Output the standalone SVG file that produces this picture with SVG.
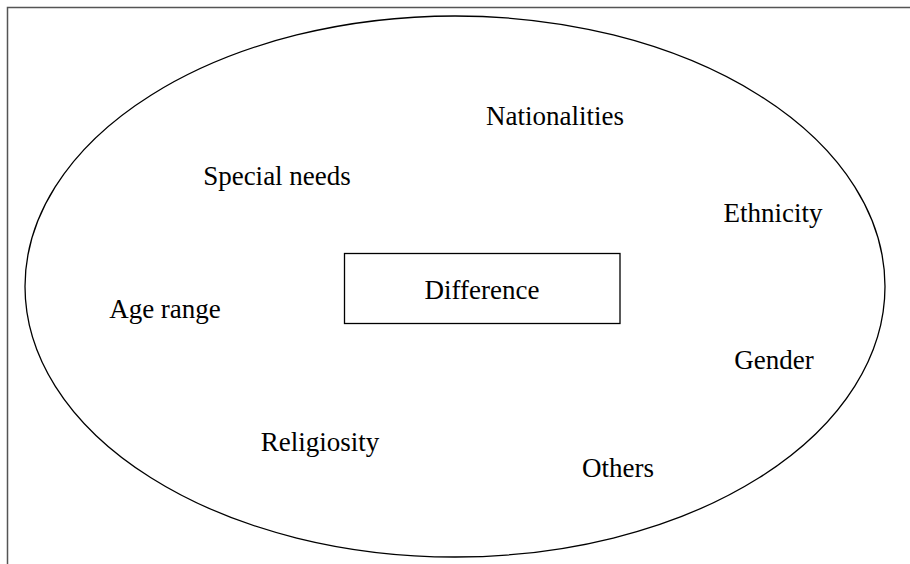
<svg xmlns="http://www.w3.org/2000/svg" width="910" height="564" viewBox="0 0 910 564">
<style>
text{font-family:"Liberation Serif","Times New Roman",serif;font-size:27px;fill:#000;text-anchor:middle}
.frame{fill:none;stroke:#555;stroke-width:1.5}
.shape{fill:none;stroke:#000;stroke-width:1.3}
</style>
<rect width="910" height="564" fill="#fff"/>
<path class="frame" d="M7.5 564 V7.5 H910"/>
<g id="outer"><ellipse class="shape" cx="455" cy="286.5" rx="430" ry="270.5"/></g>
<g id="difference"><rect class="shape" x="344.5" y="253.5" width="275.5" height="70"/><text x="482" y="299">Difference</text></g>
<g id="nationalities"><text x="555" y="125">Nationalities</text></g>
<g id="special-needs"><text x="277" y="185">Special needs</text></g>
<g id="ethnicity"><text x="773" y="222">Ethnicity</text></g>
<g id="age-range"><text x="165" y="318">Age range</text></g>
<g id="gender"><text x="774" y="369">Gender</text></g>
<g id="religiosity"><text x="320" y="451">Religiosity</text></g>
<g id="others"><text x="618" y="477">Others</text></g>
<g id="connectors"/>
</svg>
